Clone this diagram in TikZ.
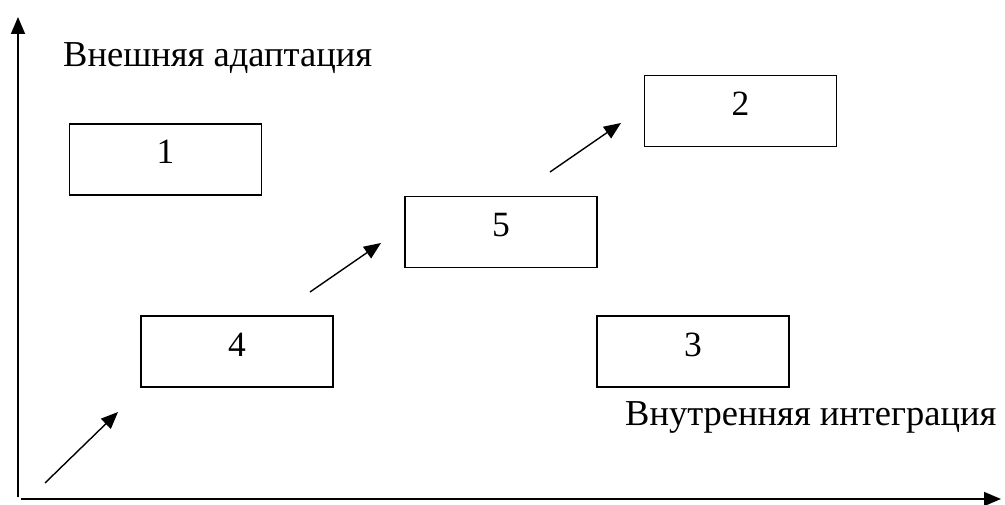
\documentclass[tikz,border=0pt]{standalone}
\usepackage{fontspec}
\setmainfont{Liberation Serif}
\usetikzlibrary{arrows.meta}
\begin{document}
\begin{tikzpicture}[x=1pt,y=-1pt,
  box/.style={draw,line width=1.6pt,rectangle,minimum width=192pt,inner xsep=0pt,inner ysep=0pt,
    text height=40pt,text depth=31pt,font=\fontsize{35.5pt}{40pt}\selectfont},
  lbl/.style={inner sep=0pt,font=\fontsize{36.5pt}{40pt}\selectfont},
  axis/.style={line width=1.6pt,-{Triangle[length=17pt,width=14pt]}},
  arr/.style={line width=1.4pt,-{Triangle[length=17pt,width=14pt]}}]
\useasboundingbox (0,0) rectangle (1005,505);
\fill[white] (0,0) rectangle (1005,505);
\coordinate (o1) at (18,497);
\coordinate (ytop) at (18,17);
\coordinate (o2) at (21,499);
\coordinate (xend) at (1001,499);
\draw[axis] (o1) -- (ytop);
\draw[axis] (o2) -- (xend);
\node[lbl,anchor=base west] (ya) at (63,66.5) {Внешняя адаптация};
\node[lbl,anchor=base west] (xa) at (625,425) {Внутренняя интеграция};
\node[box] (b1) at (165.5,159.5) {1};
\node[box] (b2) at (740.5,111) {2};
\node[box] (b5) at (501,232) {5};
\node[box] (b4) at (237,351.5) {4};
\node[box] (b3) at (693,351.5) {3};
\coordinate (a1s) at (45,483);
\coordinate (a1e) at (118,412);
\coordinate (a2s) at (310,292);
\coordinate (a2e) at (381,243);
\coordinate (a3s) at (550,172);
\coordinate (a3e) at (621,123);
\draw[arr] (a1s) -- (a1e);
\draw[arr] (a2s) -- (a2e);
\draw[arr] (a3s) -- (a3e);
\end{tikzpicture}
\end{document}
